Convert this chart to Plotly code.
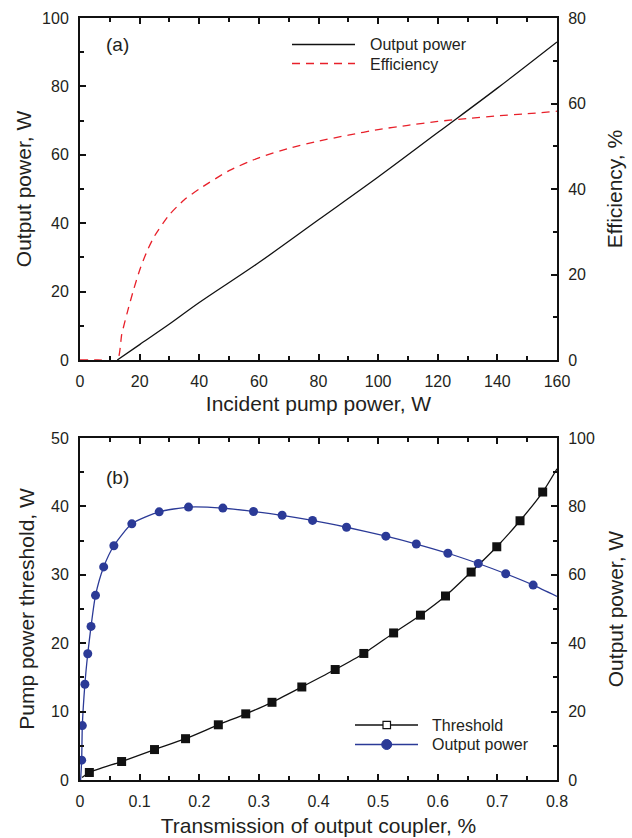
import plotly.graph_objects as go

# ---------------- Panel (a) data ----------------
pump_a = [12.5, 20, 30, 40, 60, 80, 100, 120, 140, 160]
out_a = [0, 4.5, 10.5, 16.8, 28.5, 41.0, 53.5, 66.5, 79.5, 93.0]

pump_eff = [0, 6, 12.5, 14, 16, 18, 20, 22.5, 25, 30, 35, 40, 50, 60, 70, 80,
            90, 100, 110, 120, 130, 140, 150, 160]
eff_a = [0, 0, 0, 6, 11.5, 16.5, 21, 25.5, 29, 34, 37.5, 40, 44.3, 47.3, 49.5,
         51.2, 52.6, 53.9, 54.9, 55.8, 56.5, 57.1, 57.6, 58.2]

# ---------------- Panel (b) data ----------------
T_thr = [0.0157, 0.0698, 0.125, 0.177, 0.232, 0.278, 0.322, 0.372, 0.428,
         0.476, 0.526, 0.571, 0.613, 0.656, 0.699, 0.738, 0.776]
thr = [1.1, 2.7, 4.45, 6.04, 8.07, 9.67, 11.36, 13.6, 16.15, 18.5, 21.5,
       24.1, 26.9, 30.4, 34.1, 37.9, 42.1]
T_thr_line_start, thr_line_start = 0.0034, 0.35
T_thr_line_end, thr_line_end = 0.8, 45.5

T_out = [0.0028, 0.0039, 0.0082, 0.013, 0.0185, 0.026, 0.0397, 0.0568, 0.0869,
         0.1328, 0.182, 0.2396, 0.291, 0.339, 0.39, 0.447, 0.513, 0.564, 0.617,
         0.668, 0.714, 0.760]
out_b = [5.8, 15.9, 28.0, 36.9, 44.9, 54.0, 62.3, 68.5, 74.9, 78.4, 79.8, 79.5,
         78.5, 77.4, 75.9, 73.9, 71.3, 69.0, 66.3, 63.3, 60.3, 57.0]
T_out_line_start, out_line_start = 0.001, 0.0
T_out_line_end, out_line_end = 0.8, 53.7

x_ticks_b = [0, 0.1, 0.2, 0.3, 0.4, 0.5, 0.6, 0.7, 0.8]
x_ticktext_b = ["0", "0.1", "0.2", "0.3", "0.4", "0.5", "0.6", "0.7", "0.8"]

BLACK = "#111111"
TXT = "#231f20"
RED = "#e8202a"
BLUE = "#2b3a97"
FONT = "Liberation Sans, Arial, sans-serif"

fig = go.Figure()

# (a)
fig.add_trace(go.Scatter(x=pump_a, y=out_a, mode="lines", line=dict(color=BLACK, width=1.3, shape="spline"),
                         xaxis="x", yaxis="y", showlegend=False))
fig.add_trace(go.Scatter(x=pump_eff, y=eff_a, mode="lines",
                         line=dict(color=RED, width=1.3, dash="8px,6px", shape="spline", smoothing=0.6),
                         xaxis="x", yaxis="y2", showlegend=False))

# (b)
fig.add_trace(go.Scatter(x=[T_thr_line_start] + T_thr + [T_thr_line_end],
                         y=[thr_line_start] + thr + [thr_line_end],
                         mode="lines", line=dict(color=BLACK, width=1.3, shape="spline", smoothing=0.6),
                         xaxis="x2", yaxis="y3", showlegend=False))
fig.add_trace(go.Scatter(x=T_thr, y=thr, mode="markers",
                         marker=dict(symbol="square", size=9, color=BLACK),
                         xaxis="x2", yaxis="y3", showlegend=False))
fig.add_trace(go.Scatter(x=[T_out_line_start] + T_out + [T_out_line_end],
                         y=[out_line_start] + out_b + [out_line_end],
                         mode="lines", line=dict(color=BLUE, width=1.3, shape="spline", smoothing=0.6),
                         xaxis="x2", yaxis="y4", showlegend=False))
fig.add_trace(go.Scatter(x=T_out, y=out_b, mode="markers",
                         marker=dict(symbol="circle", size=9, color=BLUE),
                         xaxis="x2", yaxis="y4", showlegend=False))

W, H = 632, 838
xd = [80 / W, 557 / W]
ya = [1 - 360 / H, 1 - 18 / H]
yb = [1 - 780 / H, 1 - 438 / H]

tickfont = dict(family=FONT, size=16, color=TXT)
titlefont = dict(family=FONT, size=21, color=TXT)


def ax(**kw):
    d = dict(showline=True, linecolor=BLACK, linewidth=2, ticks="inside", ticklen=6,
             tickwidth=1.5, tickcolor=BLACK, showgrid=False, zeroline=False,
             tickfont=tickfont, automargin=False)
    d.update(kw)
    return d


fig.update_layout(
    width=W, height=H, margin=dict(l=0, r=0, t=0, b=0),
    paper_bgcolor="white", plot_bgcolor="white", showlegend=False,
    xaxis=ax(domain=xd, anchor="y", range=[0, 160], dtick=20, mirror="ticks",
             minor=dict(ticks="inside", ticklen=4, dtick=10, tickcolor=BLACK),
             ticklabelstandoff=6,
             title=dict(text="Incident pump power, W", font=titlefont, standoff=7)),
    yaxis=ax(domain=ya, anchor="x", range=[0, 100], dtick=20,
             minor=dict(ticks="inside", ticklen=4, dtick=10, tickcolor=BLACK),
             ticklabelstandoff=6,
             title=dict(text="Output power, W", font=titlefont, standoff=5)),
    yaxis2=ax(domain=ya, anchor="x", overlaying="y", side="right", range=[0, 80], dtick=20,
              minor=dict(ticks="inside", ticklen=4, dtick=10, tickcolor=BLACK),
              ticklabelstandoff=6,
              title=dict(text="Efficiency, %", font=titlefont, standoff=22)),
    xaxis2=ax(domain=xd, anchor="y3", range=[0, 0.8], mirror="ticks",
              tickvals=x_ticks_b, ticktext=x_ticktext_b,
              minor=dict(ticks="inside", ticklen=4, dtick=0.05, tickcolor=BLACK),
              ticklabelstandoff=6,
              title=dict(text="Transmission of output coupler, %", font=titlefont, standoff=9)),
    yaxis3=ax(domain=yb, anchor="x2", range=[0, 50], dtick=10,
              minor=dict(ticks="inside", ticklen=4, dtick=5, tickcolor=BLACK),
              ticklabelstandoff=6,
              title=dict(text="Pump power threshold, W", font=titlefont, standoff=11)),
    yaxis4=ax(domain=yb, anchor="x2", overlaying="y3", side="right", range=[0, 100], dtick=20,
              minor=dict(ticks="inside", ticklen=4, dtick=10, tickcolor=BLACK),
              ticklabelstandoff=6,
              title=dict(text="Output power, W", font=titlefont, standoff=14)),
)


def px(x):
    return x / W


def py(y):
    return 1 - y / H


shapes = []
ann = []
labfont = dict(family=FONT, size=19, color=TXT)
ann.append(dict(x=px(104), y=py(45), xref="paper", yref="paper", text="(a)", showarrow=False,
                xanchor="left", yanchor="middle", font=labfont))
ann.append(dict(x=px(104), y=py(478), xref="paper", yref="paper", text="(b)", showarrow=False,
                xanchor="left", yanchor="middle", font=labfont))
# legend (a)
legfont = dict(family=FONT, size=16, color=TXT)
shapes.append(dict(type="line", xref="paper", yref="paper", x0=px(292), x1=px(355), y0=py(44.5), y1=py(44.5),
                   line=dict(color=BLACK, width=1.3)))
shapes.append(dict(type="line", xref="paper", yref="paper", x0=px(292), x1=px(355), y0=py(63.5), y1=py(63.5),
                   line=dict(color=RED, width=1.3, dash="8px,6px")))
ann.append(dict(x=px(368), y=py(45), xref="paper", yref="paper", text="Output power", showarrow=False,
                xanchor="left", yanchor="middle", font=legfont))
ann.append(dict(x=px(368), y=py(64), xref="paper", yref="paper", text="Efficiency", showarrow=False,
                xanchor="left", yanchor="middle", font=legfont))
# legend (b)
shapes.append(dict(type="line", xref="paper", yref="paper", x0=px(355), x1=px(418), y0=py(725), y1=py(725),
                   line=dict(color=BLACK, width=1.5)))
shapes.append(dict(type="rect", xref="paper", yref="paper", x0=px(383), x1=px(390.5), y0=py(728.7), y1=py(721.3),
                   line=dict(color=BLACK, width=1.2), fillcolor="white"))
shapes.append(dict(type="line", xref="paper", yref="paper", x0=px(355), x1=px(418), y0=py(744.5), y1=py(744.5),
                   line=dict(color=BLUE, width=1.5)))
shapes.append(dict(type="circle", xref="paper", yref="paper", x0=px(381.7), x1=px(391.7), y0=py(749.5), y1=py(739.5),
                   line=dict(color=BLUE, width=1), fillcolor=BLUE))
ann.append(dict(x=px(430), y=py(725), xref="paper", yref="paper", text="Threshold", showarrow=False,
                xanchor="left", yanchor="middle", font=legfont))
ann.append(dict(x=px(430), y=py(744.5), xref="paper", yref="paper", text="Output power", showarrow=False,
                xanchor="left", yanchor="middle", font=legfont))

fig.update_layout(shapes=shapes, annotations=ann)
fig.write_html("out.html")
